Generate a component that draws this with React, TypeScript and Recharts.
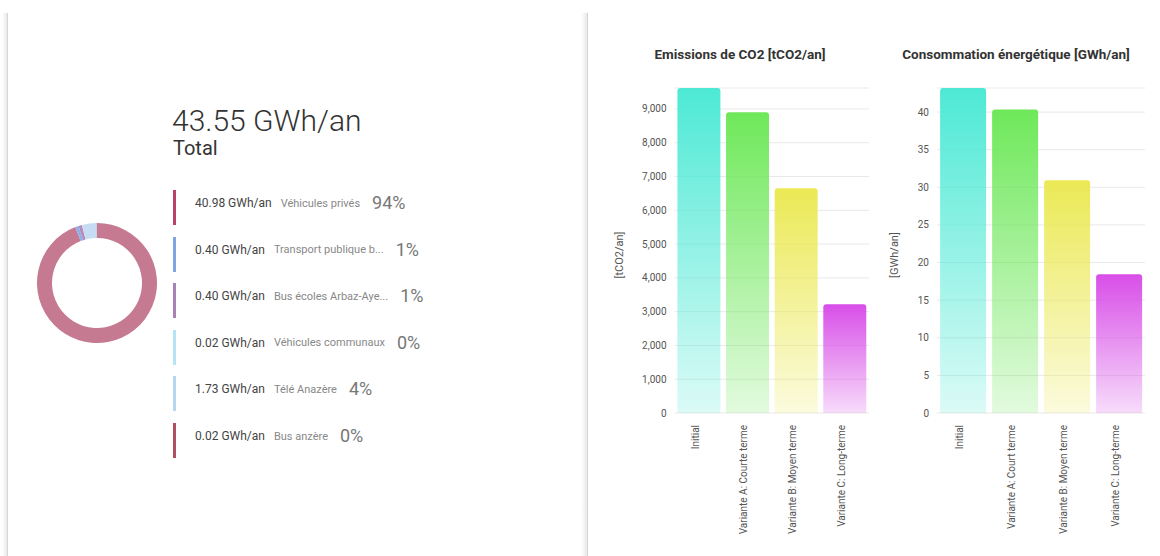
import React from "react"
import { PieChart, Pie, Cell, BarChart, Bar, XAxis, YAxis, CartesianGrid } from "recharts"

// --- données ---
const sources = [
  "Véhicules privés",
  "Transport publique b...",
  "Bus écoles Arbaz-Aye...",
  "Véhicules communaux",
  "Télé Anazère",
  "Bus anzère",
]
const sourceValues = [40.98, 0.4, 0.4, 0.02, 1.73, 0.02]
const sourceColors = ["#b8406a", "#7ea6e0", "#a982b5", "#b5e5f5", "#b8d5ee", "#b0505f"]
const pieColors = ["#c57a91", "#8fb0e6", "#b48bbb", "#c5ecf7", "#c5dcf2", "#c07a86"]

const co2Categories = ["Initial", "Variante A: Courte terme", "Variante B: Moyen terme", "Variante C: Long-terme"]
const energyCategories = ["Initial", "Variante A: Court terme", "Variante B: Moyen terme", "Variante C: Long-terme"]
const co2Values = [9620, 8900, 6650, 3220]
const energyValues = [43.2, 40.35, 30.95, 18.45]
const co2Ticks = [0, 1000, 2000, 3000, 4000, 5000, 6000, 7000, 8000, 9000]
const energyTicks = [0, 5, 10, 15, 20, 25, 30, 35, 40]

const barColors = ["#4de9d5", "#6ee85a", "#ebe955", "#d84ee8"]

const total = sourceValues.reduce((a, b) => a + b, 0)
const pieData = sources.map((name, i) => ({ name, value: sourceValues[i] }))
const co2Data = co2Categories.map((name, i) => ({ name, value: co2Values[i] }))
const energyData = energyCategories.map((name, i) => ({ name, value: energyValues[i] }))

const fmt = (v: number) => v.toLocaleString("en-US")

function RotatedTick(props: any) {
  const { x, y, payload } = props
  const ty = y + 4
  return (
    <text x={x} y={ty} transform={`rotate(-90, ${x}, ${ty})`} textAnchor="end" fontSize={10} fill="#555">
      {payload.value}
    </text>
  )
}

function ScenarioChart({ id, title, unit, data, ticks, left, yWidth, right, titleShift, unitX }: any) {
  return (
    <div style={{ position: "absolute", left, top: 30, width: 280, height: 526 }}>
      <div style={{ position: "absolute", left: titleShift, top: 16, width: 280, textAlign: "center", fontSize: 13.5, fontWeight: 700, color: "#333" }}>
        {title}
      </div>
      <div
        style={{
          position: "absolute",
          left: unitX - 40,
          top: 225 - 7,
          width: 80,
          textAlign: "center",
          fontSize: 11,
          color: "#555",
          transform: "rotate(-90deg)",
          lineHeight: "14px",
        }}
      >
        {unit}
      </div>
      <BarChart width={280} height={526} data={data} margin={{ top: 58, right, bottom: 0, left: 0 }} barCategoryGap="6%">
        <defs>
          {barColors.map((c, i) => (
            <linearGradient key={i} id={`${id}-g${i}`} x1="0" y1="0" x2="0" y2="1">
              <stop offset="0%" stopColor={c} stopOpacity={1} />
              <stop offset="100%" stopColor={c} stopOpacity={0.2} />
            </linearGradient>
          ))}
        </defs>
        <CartesianGrid vertical={false} stroke="#e9e9e9" />
        <XAxis dataKey="name" axisLine={false} tickLine={false} interval={0} height={143} tick={<RotatedTick />} />
        <YAxis
          width={yWidth}
          axisLine={false}
          tickLine={false}
          domain={[0, "dataMax"]}
          ticks={ticks}
          tickFormatter={fmt}
          tick={{ fontSize: 10, fill: "#555" }}
        />
        <Bar dataKey="value" radius={[3, 3, 0, 0]} isAnimationActive={false}>
          {data.map((_: any, i: number) => (
            <Cell key={i} fill={`url(#${id}-g${i})`} />
          ))}
        </Bar>
      </BarChart>
    </div>
  )
}

export default function App() {
  return (
    <div style={{ position: "absolute", left: 0, top: 0, width: 1160, height: 556, background: "#fff", fontFamily: "Roboto, sans-serif", overflow: "hidden" }}>
      {/* bords de la carte */}
      <div style={{ position: "absolute", left: 2, top: 13, width: 6, height: 543, background: "linear-gradient(to right, rgba(0,0,0,0), rgba(0,0,0,0.1))" }} />
      <div style={{ position: "absolute", left: 7, top: 13, width: 1, height: 543, background: "#d6d6d6" }} />
      <div style={{ position: "absolute", left: 581, top: 13, width: 7, height: 543, background: "linear-gradient(to right, rgba(0,0,0,0), rgba(0,0,0,0.1))" }} />
      <div style={{ position: "absolute", left: 587, top: 13, width: 1, height: 543, background: "#d6d6d6" }} />

      <div style={{ position: "absolute", left: 32, top: 218 }}>
        <PieChart width={130} height={130} margin={{ top: 0, right: 0, bottom: 0, left: 0 }}>
          <Pie
            data={pieData}
            dataKey="value"
            cx={65}
            cy={65}
            innerRadius={45}
            outerRadius={60}
            startAngle={90}
            endAngle={-270}
            stroke="none"
            isAnimationActive={false}
          >
            {pieData.map((_, i) => (
              <Cell key={i} fill={pieColors[i]} />
            ))}
          </Pie>
        </PieChart>
      </div>

      <div style={{ position: "absolute", left: 172, top: 107.5, fontSize: 30, fontWeight: 300, lineHeight: "26px", color: "#333" }}>
        {total.toFixed(2)} GWh/an
      </div>
      <div style={{ position: "absolute", left: 173, top: 137.5, fontSize: 20, fontWeight: 400, lineHeight: "20px", color: "#333" }}>Total</div>

      {sources.map((s, i) => (
        <div key={s} style={{ position: "absolute", left: 173, top: 190 + i * 46.6, height: 35, width: 380 }}>
          <div style={{ position: "absolute", left: 0, top: 0, width: 3, height: 35, background: sourceColors[i] }} />
          <div style={{ position: "absolute", left: 22, top: 0, height: 26, display: "flex", alignItems: "center", whiteSpace: "nowrap" }}>
            <span style={{ fontSize: 12, lineHeight: "12px", color: "#444" }}>{sourceValues[i].toFixed(2)} GWh/an</span>
            <span style={{ fontSize: 11, lineHeight: "11px", color: "#888", marginLeft: 9 }}>{s}</span>
            <span style={{ fontSize: 18, lineHeight: "18px", color: "#777", marginLeft: 12 }}>
              {Math.round((sourceValues[i] / total) * 100)}%
            </span>
          </div>
        </div>
      ))}

      <ScenarioChart id="co2" title="Emissions de CO2 [tCO2/an]" unit="[tCO2/an]" data={co2Data} ticks={co2Ticks} left={600} yWidth={74.5} right={11} titleShift={0} unitX={20} />
      <ScenarioChart id="en" title="Consommation énergétique [GWh/an]" unit="[GWh/an]" data={energyData} ticks={energyTicks} left={880} yWidth={57} right={15} titleShift={-4} unitX={15} />
    </div>
  )
}
